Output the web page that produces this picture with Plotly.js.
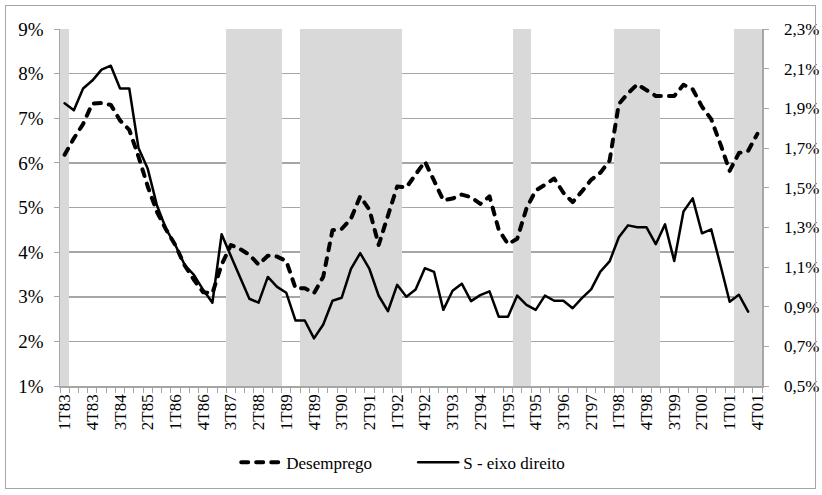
<!DOCTYPE html>
<html>
<head>
<meta charset="utf-8">
<script src="https://cdn.plot.ly/plotly-3.0.1.min.js"></script>
<style>
  body { margin: 0; padding: 0; background: #ffffff; }
  #wrap { position: relative; width: 822px; height: 495px; }
  #chart { position: absolute; left: 0; top: 0; width: 822px; height: 495px; }
  #frame { position: absolute; left: 5px; top: 5px; width: 811px; height: 484px;
           border: 1px solid #a6a6a6; pointer-events: none; box-sizing: border-box; }
  .main-svg path.js-line { stroke-linecap: round; stroke-linejoin: round; }
</style>
</head>
<body>
<div id="wrap">
  <div id="chart"></div>
  <div id="frame"></div>
</div>
<script>
// Quarterly categories
const quarters = [
  "1T83","2T83","3T83","4T83","1T84","2T84","3T84","4T84",
  "1T85","2T85","3T85","4T85","1T86","2T86","3T86","4T86",
  "1T87","2T87","3T87","4T87","1T88","2T88","3T88","4T88",
  "1T89","2T89","3T89","4T89","1T90","2T90","3T90","4T90",
  "1T91","2T91","3T91","4T91","1T92","2T92","3T92","4T92",
  "1T93","2T93","3T93","4T93","1T94","2T94","3T94","4T94",
  "1T95","2T95","3T95","4T95","1T96","2T96","3T96","4T96",
  "1T97","2T97","3T97","4T97","1T98","2T98","3T98","4T98",
  "1T99","2T99","3T99","4T99","1T00","2T00","3T00","4T00",
  "1T01","2T01","3T01","4T01"
];

// Desemprego (%), left axis
const desemprego = [
  6.18, 6.55, 6.87, 7.33, 7.34, 7.30, 6.95, 6.74,
  6.14, 5.47, 4.90, 4.50, 4.15, 3.70, 3.38, 3.10,
  3.08, 3.72, 4.16, 4.07, 3.94, 3.72, 3.92, 3.90,
  3.80, 3.19, 3.19, 3.08, 3.45, 4.49, 4.52, 4.75,
  5.25, 4.95, 4.16, 4.85, 5.47, 5.45, 5.73, 6.03,
  5.60, 5.16, 5.20, 5.29, 5.23, 5.08, 5.25, 4.50,
  4.18, 4.30, 4.98, 5.38, 5.51, 5.65, 5.33, 5.12,
  5.36, 5.62, 5.78, 6.05, 7.32, 7.56, 7.76, 7.63,
  7.50, 7.50, 7.50, 7.75, 7.65, 7.26, 6.98, 6.42,
  5.82, 6.22, 6.27, 6.65
];

// S - eixo direito (%), right axis
const sSeries = [
  1.925, 1.89, 2.00, 2.04, 2.095, 2.115, 2.00, 2.00,
  1.70, 1.595, 1.41, 1.29, 1.21, 1.11, 1.06, 0.985,
  0.92, 1.265, 1.155, 1.05, 0.94, 0.92, 1.05, 1.00,
  0.97, 0.83, 0.83, 0.74, 0.81, 0.93, 0.945, 1.09,
  1.17, 1.09, 0.955, 0.877, 1.01, 0.95, 0.987, 1.094,
  1.075, 0.884, 0.98, 1.016, 0.928, 0.958, 0.977, 0.849,
  0.849, 0.956, 0.909, 0.884, 0.956, 0.93, 0.93, 0.892,
  0.943, 0.987, 1.077, 1.128, 1.25, 1.31, 1.30, 1.30,
  1.215, 1.315, 1.13, 1.38, 1.446, 1.27, 1.29, 1.11,
  0.925, 0.96, 0.875, null
];

// Shaded periods (1 = shaded)
const shaded = [
  1,0,0,0,0,0,0,0, 0,0,0,0,0,0,0,0,
  0,0,1,1,1,1,1,1, 0,0,1,1,1,1,1,1,
  1,1,1,1,1,0,0,0, 0,0,0,0,0,0,0,0,
  0,1,1,0,0,0,0,0, 0,0,0,0,1,1,1,1,
  1,0,0,0,0,0,0,0, 0,1,1,1
];

const leftMax = 9;
const labelStep = 3;
const tickText = quarters.map((q, i) => (i % labelStep === 0 ? q : ""));

const fontFamily = '"Liberation Serif", "Times New Roman", serif';
const gray = "#a6a6a6";

const traces = [
  {
    type: "bar",
    x: quarters,
    y: shaded.map(f => f * leftMax),
    marker: { color: "#d9d9d9", line: { width: 0 } },
    showlegend: false,
    hoverinfo: "skip",
    yaxis: "y"
  },
  {
    type: "scatter",
    mode: "lines",
    name: "Desemprego",
    x: quarters,
    y: desemprego,
    line: { color: "#000000", width: 4, dash: "7px,8px" },
    yaxis: "y"
  },
  {
    type: "scatter",
    mode: "lines",
    name: "S - eixo direito",
    x: quarters,
    y: sSeries,
    line: { color: "#000000", width: 2.5 },
    yaxis: "y2"
  }
];

const layout = {
  width: 822,
  height: 495,
  margin: { l: 60, r: 60, t: 29, b: 109, pad: 0 },
  paper_bgcolor: "#ffffff",
  plot_bgcolor: "#ffffff",
  separators: ",.",
  bargap: 0,
  font: { family: fontFamily, size: 17, color: "#000000" },
  xaxis: {
    type: "category",
    tickmode: "array",
    tickvals: quarters,
    ticktext: tickText,
    tickson: "boundaries",
    ticks: "outside",
    ticklen: 5,
    tickcolor: gray,
    tickangle: -90,
    showgrid: false,
    showline: true,
    linecolor: gray,
    linewidth: 1.5,
    tickfont: { family: fontFamily, size: 17, color: "#000000" },
    range: [-0.5, quarters.length - 0.5],
    fixedrange: true
  },
  yaxis: {
    range: [1, 9],
    dtick: 1,
    tick0: 1,
    tickformat: ".0f",
    ticksuffix: "%",
    ticks: "outside",
    ticklen: 5,
    tickcolor: gray,
    showgrid: true,
    gridcolor: gray,
    gridwidth: 1.5,
    showline: true,
    linecolor: gray,
    linewidth: 1.5,
    zeroline: false,
    ticklabelstandoff: 6,
    tickfont: { family: fontFamily, size: 19, color: "#000000" },
    fixedrange: true
  },
  yaxis2: {
    overlaying: "y",
    side: "right",
    range: [0.5, 2.3],
    dtick: 0.2,
    tick0: 0.5,
    tickformat: ".1f",
    ticksuffix: "%",
    ticks: "outside",
    ticklen: 5,
    tickcolor: gray,
    showgrid: false,
    showline: true,
    linecolor: gray,
    linewidth: 1.5,
    zeroline: false,
    ticklabelstandoff: 12,
    tickfont: { family: fontFamily, size: 17, color: "#000000" },
    fixedrange: true
  },
  legend: {
    orientation: "h",
    x: 0.251,
    xanchor: "left",
    y: -0.215,
    yanchor: "middle",
    font: { family: fontFamily, size: 17, color: "#000000" },
    bgcolor: "rgba(0,0,0,0)",
    itemwidth: 40,
    entrywidth: 122,
    entrywidthmode: "pixels"
  },
  showlegend: true
};

Plotly.newPlot("chart", traces, layout, { staticPlot: true, displayModeBar: false });
</script>
</body>
</html>
